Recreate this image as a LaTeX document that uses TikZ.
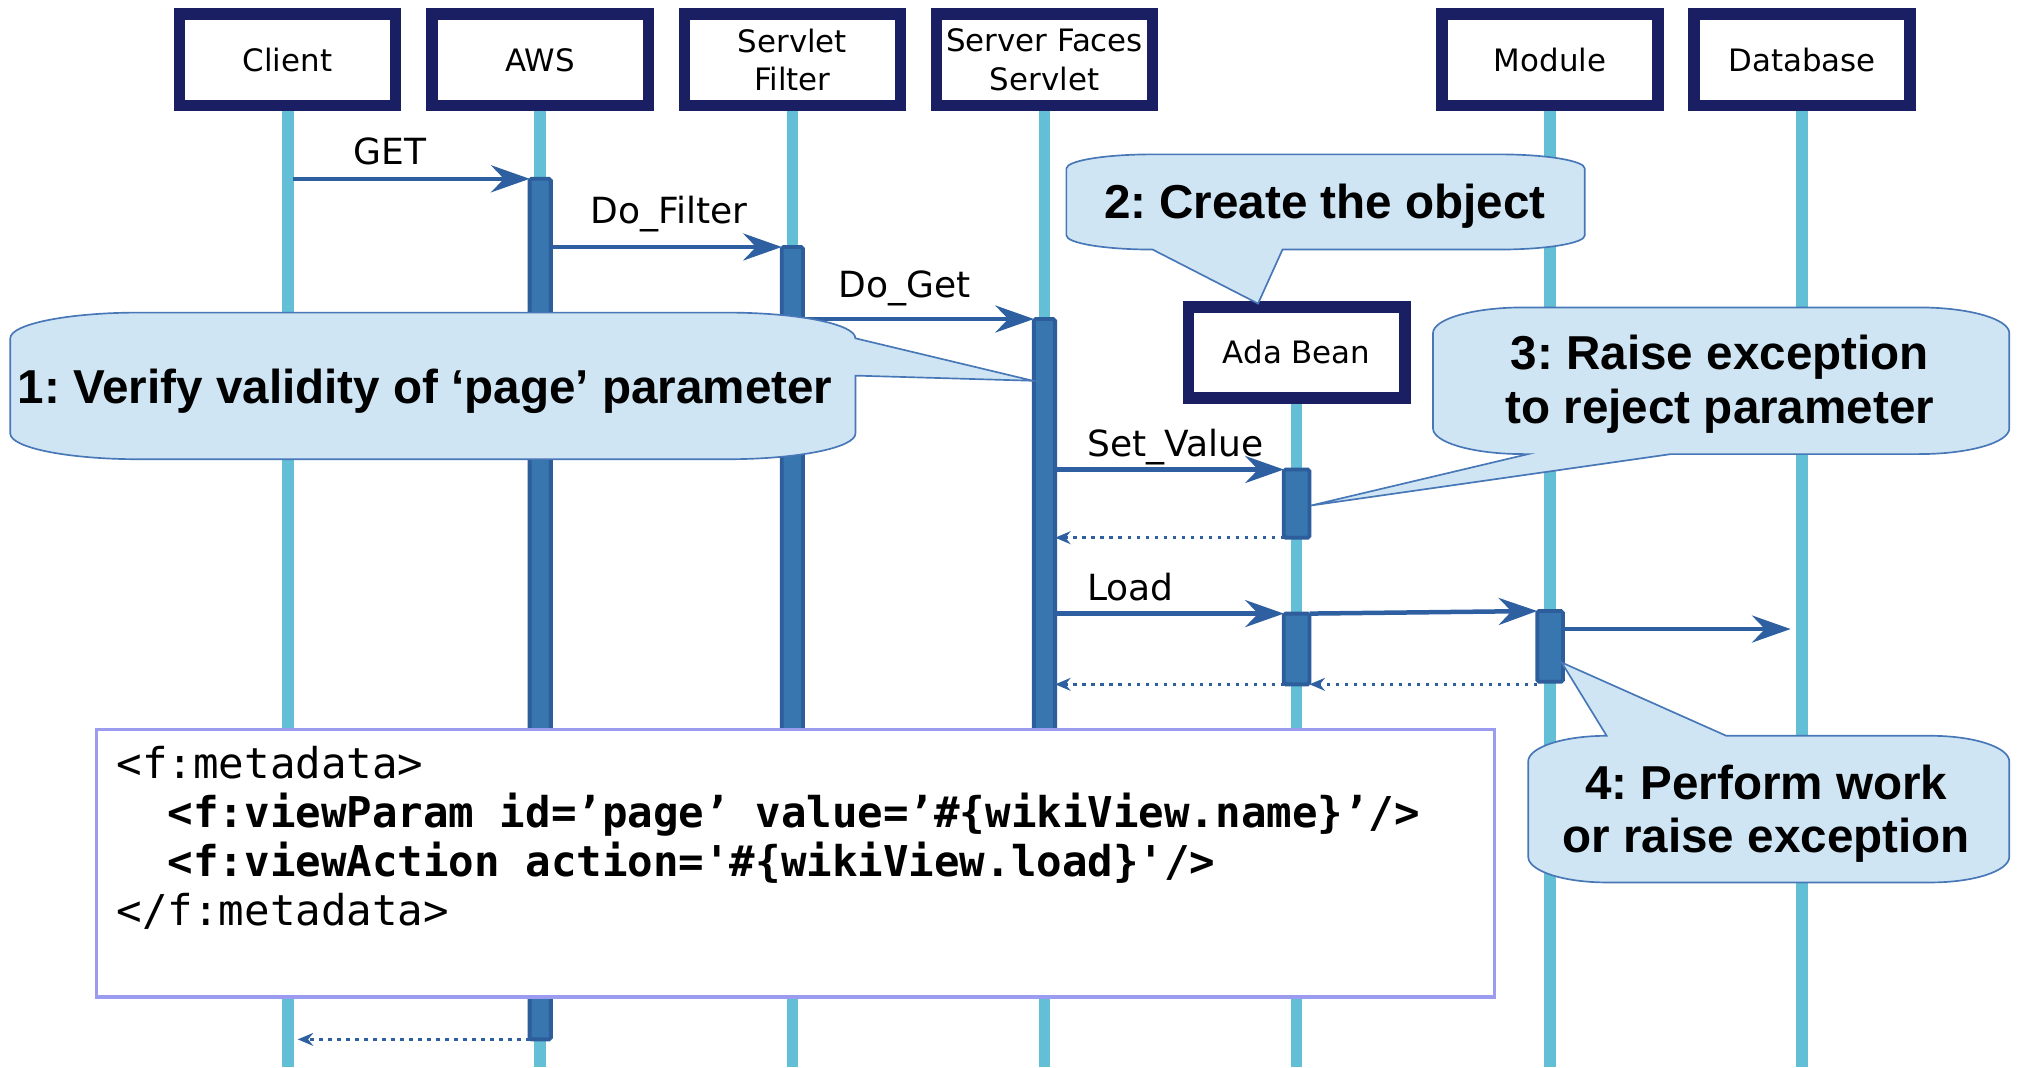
\documentclass[tikz,border=0pt]{standalone}
\usepackage{fontspec}
\setmainfont{DejaVu Sans}
\setmonofont{DejaVu Sans Mono}
\newfontfamily\calloutfont{Liberation Sans}
\usepackage{tikz}
\usetikzlibrary{arrows.meta,calc}
\definecolor{navy}{RGB}{26,31,100}
\definecolor{lifeblue}{RGB}{98,191,213}
\definecolor{barfill}{RGB}{55,118,174}
\definecolor{barline}{RGB}{45,94,155}
\definecolor{arrowblue}{RGB}{46,95,160}
\definecolor{callfill}{RGB}{207,229,244}
\definecolor{callline}{RGB}{71,119,183}
\definecolor{codeline}{RGB}{155,155,240}
\def\callout(#1,#2)(#3,#4)(#5:#6)#7#8#9{\draw[bubble] ({#1+#5},#2) #7 -- ({#3-#5},#2)
	.. controls ({#3-0.4477*#5},#2) and (#3,{#2+0.4477*#6}) .. (#3,{#2+#6}) #8 -- (#3,{#4-#6})
	.. controls (#3,{#4-0.4477*#6}) and ({#3-0.4477*#5},#4) .. ({#3-#5},#4) #9 -- ({#1+#5},#4)
	.. controls ({#1+0.4477*#5},#4) and (#1,{#4-0.4477*#6}) .. (#1,{#4-#6}) -- (#1,{#2+#6})
	.. controls (#1,{#2+0.4477*#6}) and ({#1+0.4477*#5},#2) .. ({#1+#5},#2) -- cycle;}
\frenchspacing

\begin{document}
\begin{tikzpicture}[x=1pt, y=-1pt,
	actor/.style={draw=navy, line width=9pt, fill=white, minimum width=168pt, minimum height=71pt, inner sep=0pt, outer sep=0pt, align=center, font=\fontsize{24}{30}\selectfont},
	life/.style={draw=lifeblue, line width=9pt},
	bar/.style={draw=barline, fill=barfill, line width=3pt, minimum width=16.5pt, inner sep=0pt, outer sep=0pt, rounded corners=1.5pt},
	callbar/.style={bar, minimum width=20pt},
	msg/.style={draw=arrowblue, line width=3.5pt, -{Stealth[length=30pt, width=21pt, inset=10pt]}},
	ret/.style={draw=arrowblue, line width=2.2pt, dash pattern=on 2.5pt off 4.5pt, -{Stealth[length=12pt, width=10pt, inset=4pt]}},
	msglbl/.style={font=\fontsize{28}{34}\selectfont, inner sep=0pt},
	bubble/.style={fill=callfill, draw=callline, line width=1.3pt},
	note/.style={font=\calloutfont\bfseries\fontsize{37}{41.5}\selectfont, align=center, inner sep=0pt},
	codebox/.style={draw=codeline, fill=white, line width=2.5pt, inner sep=0pt, outer sep=0pt},
	codetxt/.style={font=\ttfamily\fontsize{33}{38}\selectfont, align=left, inner sep=0pt}]
	%%%%% START %%%%%
	
	\useasboundingbox (0,0) rectangle (1568,829.5);
	
	% lifelines
	\draw[life] (224,82) -- (224,829.5);
	\draw[life] (420,82) -- (420,829.5);
	\draw[life] (616,82) -- (616,829.5);
	\draw[life] (812,82) -- (812,829.5);
	\draw[life] (1008,300) -- (1008,829.5);
	\draw[life] (1205,82) -- (1205,829.5);
	\draw[life] (1401,82) -- (1401,829.5);
	
	\node[actor] (client) at (223.5,46.5) {Client};
	\node[actor] (aws) at (420,46.5) {AWS};
	\node[actor] (filter) at (616,46.5) {Servlet\\Filter};
	\node[actor] (faces) at (812,46.5) {Server Faces\\Servlet};
	\node[actor] (bean) at (1008,274) {Ada Bean};
	\node[actor] (module) at (1205,46.5) {Module};
	\node[actor] (db) at (1401,46.5) {Database};
	
	% activations
	\node[bar, anchor=north, minimum height=669pt] (awsbar) at (420,139) {};
	\node[bar, anchor=north, minimum height=510pt] (filtbar) at (616,192) {};
	\node[bar, anchor=north, minimum height=455pt] (facesbar) at (812,248) {};
	\node[callbar, anchor=north, minimum height=53pt] (beanbar1) at (1008,365) {};
	\node[callbar, anchor=north, minimum height=55pt] (beanbar2) at (1008,477) {};
	\node[callbar, anchor=north, minimum height=55pt] (modbar) at (1205,475) {};
	
	% messages
	\draw[msg, shorten <=4.5pt] (client.south |- awsbar.north) -- (awsbar.north west);
	\draw[msg] (awsbar.east |- filtbar.north) -- (filtbar.north west);
	\draw[msg] (filtbar.east |- facesbar.north) -- (facesbar.north west);
	\draw[msg] (facesbar.east |- beanbar1.north) -- (beanbar1.north west);
	\draw[msg] (facesbar.east |- beanbar2.north) -- (beanbar2.north west);
	\draw[msg] (beanbar2.north east) -- (modbar.north west);
	\coordinate (modout) at ([yshift=-14pt]modbar.north east);
	\draw[msg, shorten >=9pt] (modout) -- (modout -| db.south);
	
	\node[msglbl, anchor=base] (getlbl) at (303,127.5) {GET};
	\node[msglbl, anchor=base] (filterlbl) at (520,174) {Do\_Filter};
	\node[msglbl, anchor=base] (getlbl2) at (703,231) {Do\_Get};
	\node[msglbl, anchor=base west] (setlbl) at (845,355) {Set\_Value};
	\node[msglbl, anchor=base west] (loadlbl) at (845,467) {Load};
	
	% returns
	\draw[ret] (beanbar1.south west) -- (facesbar.east |- beanbar1.south west);
	\draw[ret] (beanbar2.south west) -- (facesbar.east |- beanbar2.south west);
	\draw[ret] (modbar.west |- beanbar2.south) -- (beanbar2.south east);
	\draw[ret, shorten >=8pt] (awsbar.south west) -- (client.south |- awsbar.south west);
	
	% notes
	\callout(8,243)(665,357)(100:20){}{-- (803,296) -- (665,292)}{}
	\callout(829,120)(1232,194)(67:11){}{}{-- (997,194) -- (978,236) -- (896,194)}
	\callout(1114,239)(1562,353)(70:20){}{}{-- (1299,353) -- (1019,393) -- (1188,353)}
	\callout(1188,572)(1562,686)(61:20){-- (1214,515) -- (1342,572)}{}{}
	
	\node[note, anchor=base] (verify) at (330.5,314) {1: Verify validity of ‘page’ parameter};
	\node[note, anchor=base] (create) at (1030,170) {2: Create the object};
	\node[note, anchor=base] (raise) at (1337,329) {3: Raise exception\\to reject parameter};
	\node[note, anchor=base] (perform) at (1373,663) {4: Perform work\\or raise exception};
	
	% facelet source
	\node[codebox, anchor=north west, minimum width=1087pt, minimum height=208pt] (codebg) at (75,567) {};
	\node[codetxt, anchor=base west] (code) at (90.5,719.5) {<f:metadata>\\
		{}\ \ \textbf{<f:viewParam id=’page’ value=’\#\{wikiView.name\}’/>}\\
		{}\ \ \textbf{<f:viewAction action='\#\{wikiView.load\}'/>}\\
		</f:metadata>};
	
	%%%%% END %%%%%
\end{tikzpicture}
\end{document}
